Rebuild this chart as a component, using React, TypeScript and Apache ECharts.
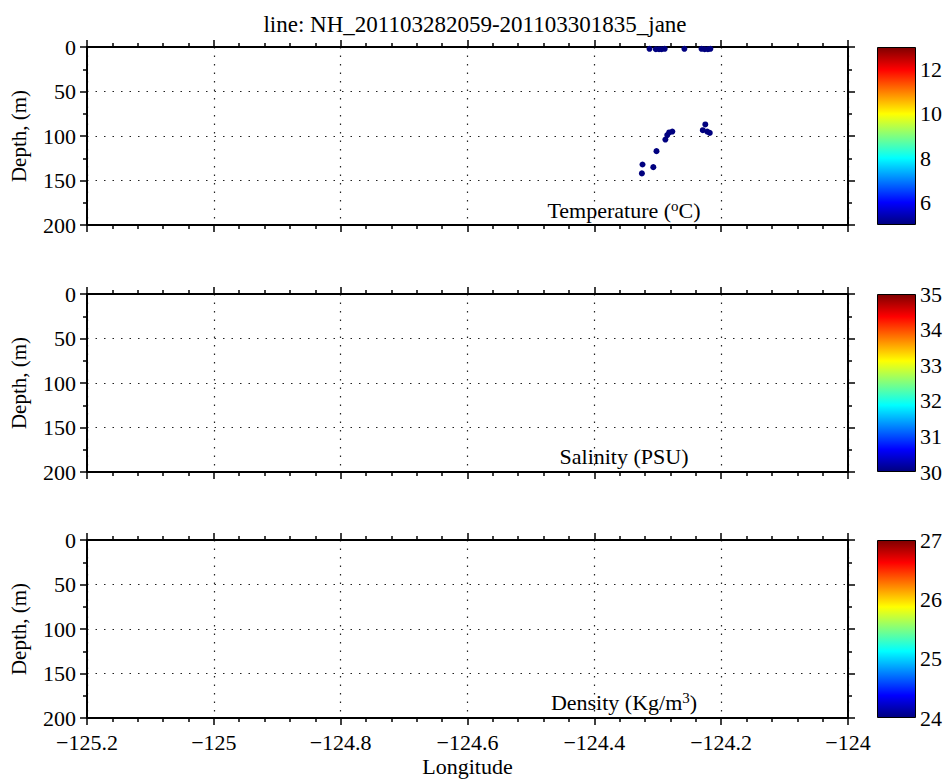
import { useEffect, useRef } from "react";
import * as echarts from "echarts";

const titleText = "line: NH_201103282059-201103301835_jane";

// CTD samples along the line (longitude, depth in m, temperature in degC)
const castLon = [
  -124.313, -124.303, -124.298, -124.294, -124.289, -124.258, -124.231, -124.226,
  -124.221, -124.217, -124.325, -124.324, -124.307, -124.302, -124.288, -124.285,
  -124.282, -124.277, -124.229, -124.225, -124.222, -124.218,
];
const castDepth = [
  2, 2.5, 2.5, 2.5, 2, 2, 2, 2.5, 2.5, 2, 142, 132, 135, 117, 104, 99, 96, 95, 93.5,
  87, 95, 96.5,
];
const castTemp = [
  5.0, 5.0, 5.0, 5.0, 5.0, 5.0, 5.0, 5.0, 5.0, 5.0, 5.0, 5.0, 5.0, 5.0, 5.0, 5.0,
  5.0, 5.0, 5.0, 5.0, 5.0, 5.0,
];

const lonRange = [-125.2, -124];
const depthRange = [0, 200];

const panelNames = ["temperature", "salinity", "density"];
const colorRanges = [
  [5, 13],
  [30, 35],
  [24, 27],
];
const colorLabelSteps = [2, 1, 1];

const jet = ["#00007f", "#0000ff", "#00ffff", "#ffff00", "#ff0000", "#7f0000"];
const jetStops = [0, 0.125, 0.375, 0.625, 0.875, 1];

const FONT = "Liberation Serif";
const PANEL_TOPS = [47, 294, 540];
const PANEL_H = 178;

export default function App() {
  const chartRef = useRef(null);

  useEffect(() => {
    const chart = echarts.init(chartRef.current, null, { renderer: "svg" });

    const fmtLon = (v: number) => String(Math.round(v * 10) / 10).replace("-", "\u2212");

    const tickStyle = { show: true, inside: false, length: 7, lineStyle: { color: "#000", width: 1.5 } };
    const minor = (n: number) => ({
      show: true,
      splitNumber: n,
      length: 4,
      lineStyle: { color: "#000", width: 1.5 },
    });
    const line = { show: true, onZero: false, lineStyle: { color: "#000", width: 2 } };
    const grid = {
      show: true,
      lineStyle: { color: "#222", width: 1.2, type: [1.5, 7] },
    };

    const grids: any[] = [];
    const xAxes: any[] = [];
    const yAxes: any[] = [];

    PANEL_TOPS.forEach((top, i) => {
      grids.push({ left: 84, right: 102, top, height: PANEL_H });
      const last = i === 2;
      xAxes.push({
        type: "value",
        gridIndex: i,
        position: "bottom",
        min: lonRange[0],
        max: lonRange[1],
        interval: 0.2,
        axisLine: line,
        axisTick: tickStyle,
        minorTick: minor(5),
        splitLine: grid,
        axisLabel: {
          show: last,
          formatter: fmtLon,
          fontFamily: FONT,
          fontSize: 22,
          color: "#000",
          margin: 13,
        },
        name: last ? "Longitude" : "",
        nameLocation: "middle",
        nameGap: 37,
        nameTextStyle: { fontFamily: FONT, fontSize: 22, color: "#000" },
      });
      xAxes.push({
        type: "value",
        gridIndex: i,
        position: "top",
        min: lonRange[0],
        max: lonRange[1],
        interval: 0.2,
        axisLine: line,
        axisTick: tickStyle,
        minorTick: minor(5),
        splitLine: { show: false },
        axisLabel: { show: false },
      });
      yAxes.push({
        type: "value",
        gridIndex: i,
        position: "left",
        inverse: true,
        min: depthRange[0],
        max: depthRange[1],
        interval: 50,
        axisLine: line,
        axisTick: tickStyle,
        minorTick: minor(2),
        splitLine: grid,
        axisLabel: { fontFamily: FONT, fontSize: 22, color: "#000", margin: 11 },
        name: "Depth, (m)",
        nameLocation: "middle",
        nameRotate: 90,
        nameGap: 58,
        nameTextStyle: { fontFamily: FONT, fontSize: 21, color: "#000" },
      });
      yAxes.push({
        type: "value",
        gridIndex: i,
        position: "right",
        inverse: true,
        min: depthRange[0],
        max: depthRange[1],
        interval: 50,
        axisLine: line,
        axisTick: tickStyle,
        minorTick: minor(2),
        splitLine: { show: false },
        axisLabel: { show: false },
      });
    });

    const gradient = new echarts.graphic.LinearGradient(
      0,
      1,
      0,
      0,
      jet.map((c, k) => ({ offset: jetStops[k], color: c }))
    );

    const barSeries: any[] = [];
    PANEL_TOPS.forEach((top, i) => {
      const gi = 3 + i;
      const [lo, hi] = colorRanges[i];
      const step = colorLabelSteps[i];
      grids.push({ left: 877, width: 39, top, height: PANEL_H });
      xAxes.push({
        type: "category",
        gridIndex: gi,
        data: [panelNames[i]],
        show: false,
      });
      yAxes.push({
        type: "value",
        gridIndex: gi,
        position: "right",
        min: lo,
        max: hi,
        interval: 1,
        axisLine: { show: false },
        axisTick: { show: false },
        splitLine: { show: false },
        axisLabel: {
          fontFamily: FONT,
          fontSize: 22,
          color: "#000",
          margin: 4,
          formatter: (v: number) => (Math.round(v) % step === 0 ? String(Math.round(v)) : ""),
        },
      });
      barSeries.push({
        type: "bar",
        xAxisIndex: 6 + i,
        yAxisIndex: 6 + i,
        stack: "cb" + i,
        data: [lo],
        barWidth: "100%",
        itemStyle: { color: "transparent" },
        silent: true,
      });
      barSeries.push({
        type: "bar",
        xAxisIndex: 6 + i,
        yAxisIndex: 6 + i,
        stack: "cb" + i,
        data: [hi - lo],
        barWidth: "100%",
        itemStyle: { color: gradient, borderColor: "#000", borderWidth: 1 },
        silent: true,
      });
    });

    const labelRich = {
      n: { fontFamily: FONT, fontSize: 22, color: "#000", lineHeight: 24 },
      s: { fontFamily: FONT, fontSize: 15, color: "#000", lineHeight: 24, verticalAlign: "top", padding: [0, 0, 10, 0] },
    };
    const panelText = [
      "{n|Temperature (}{s|o}{n|C)}",
      "{n|Salinity (PSU)}",
      "{n|Density (Kg/m}{s|3}{n|)}",
    ];
    const textY = [210, 456, 702];

    const options = {
      animation: false,
      backgroundColor: "#fff",
      title: {
        text: titleText,
        left: "center",
        top: 8,
        textStyle: { fontFamily: FONT, fontSize: 23, fontWeight: "normal", color: "#000" },
      },
      grid: grids,
      xAxis: xAxes,
      yAxis: yAxes,
      visualMap: {
        type: "continuous",
        show: false,
        min: colorRanges[0][0],
        max: colorRanges[0][1],
        dimension: 2,
        seriesIndex: 0,
        inRange: { color: jet },
      },
      graphic: panelText.map((t, i) => ({
        type: "text",
        x: 624,
        y: textY[i],
        style: {
          text: t,
          rich: labelRich,
          align: "center",
          verticalAlign: "middle",
        },
        z: 10,
      })),
      series: [
        {
          type: "scatter",
          xAxisIndex: 0,
          yAxisIndex: 0,
          symbolSize: 6,
          itemStyle: { opacity: 1 },
          data: castLon.map((x, k) => [x, castDepth[k], castTemp[k]]),
        },
        ...barSeries,
      ],
    };

    chart.setOption(options);

    return () => {
      chart.dispose();
    };
  }, []);

  return (
    <div
      ref={chartRef}
      style={{ position: "fixed", left: 0, top: 0, width: "950px", height: "783px" }}
    />
  );
}
